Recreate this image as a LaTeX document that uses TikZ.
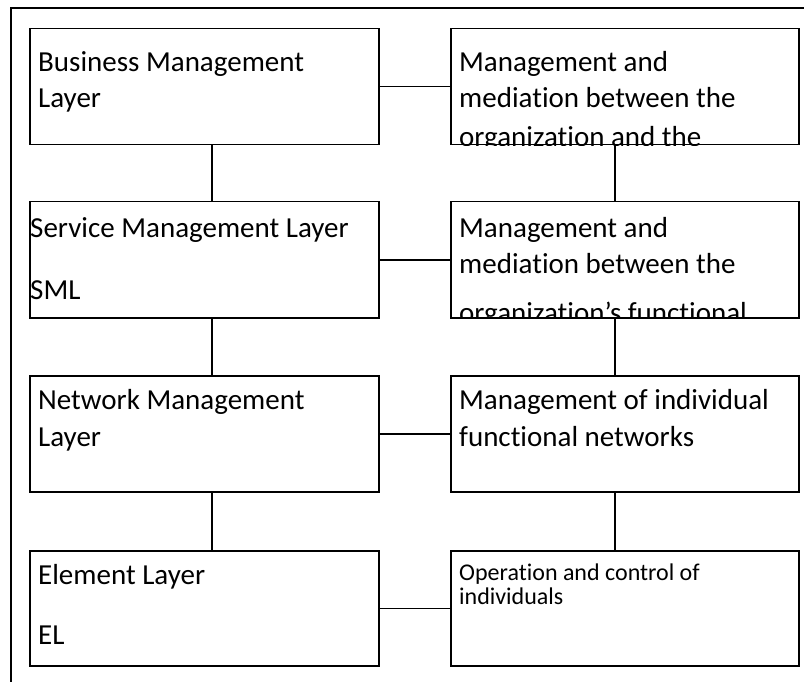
\documentclass[tikz,border=0pt]{standalone}
\usepackage{fontspec}
\setmainfont{Carlito}[Ligatures=NoCommon]
\begin{document}
\begin{tikzpicture}[x=1pt,y=-1pt,
  box/.style={draw, line width=1.5pt, minimum height=116pt, anchor=north west, inner sep=0pt},
  lbox/.style={box, minimum width=349pt},
  rbox/.style={box, minimum width=348pt},
  txt/.style={anchor=base west, inner sep=0pt, font=\fontsize{29}{36}\selectfont},
  smalltxt/.style={anchor=base west, inner sep=0pt, font=\fontsize{24}{29}\selectfont},
  link/.style={line width=1.5pt}]
\useasboundingbox (0,0) rectangle (804,682);
\clip (0,0) rectangle (804,682);
\fill[white] (0,0) rectangle (804,682);
% outer frame (partly outside the page)
\draw[line width=1.6pt] (11,700) -- (11,8) -- (830,8);
% boxes
\node[lbox] (L1) at (29,28) {};
\node[rbox] (R1) at (450,28) {};
\node[lbox] (L2) at (29,201) {};
\node[rbox] (R2) at (450,201) {};
\node[lbox] (L3) at (29,375) {};
\node[rbox] (R3) at (450,375) {};
\node[lbox, minimum height=115pt] (L4) at (29,550) {};
\node[rbox, minimum height=115pt] (R4) at (450,550) {};
\coordinate (cL) at (212,0);
\coordinate (cR) at (615,0);
% vertical connectors
\draw[link] (L1.south -| cL) -- (L2.north -| cL);
\draw[link] (L2.south -| cL) -- (L3.north -| cL);
\draw[link] (L3.south -| cL) -- (L4.north -| cL);
\draw[link] (R1.south -| cR) -- (R2.north -| cR);
\draw[link] (R2.south -| cR) -- (R3.north -| cR);
\draw[link] (R3.south -| cR) -- (R4.north -| cR);
% horizontal connectors
\draw[link] (L1.east) -- (R1.west);
\draw[link] (L2.east) -- (R2.west);
\draw[link] (L3.east) -- (R3.west);
\draw[link] (L4.east) -- (R4.west);
% texts
\node[txt] (t1a) at (38,72) {Business Management};
\node[txt] (t1b) at (38,108) {Layer};
\begin{scope}
\clip (R1.north west) rectangle (R1.south east);
\node[txt] (u1a) at (459,72) {Management and};
\node[txt] (u1b) at (459,108) {mediation between the};
\node[txt] (u1c) at (459,147) {organization and the};
\end{scope}
\node[txt] (t2a) at (30,237) {Service Management Layer};
\node[txt] (t2b) at (30,299) {SML};
\begin{scope}
\clip (R2.north west) rectangle (R2.south east);
\node[txt] (u2a) at (459,237) {Management and};
\node[txt] (u2b) at (459,273) {mediation between the};
\node[txt] (u2c) at (459,322) {organization’s functional};
\end{scope}
\node[txt] (t3a) at (38,409) {Network Management};
\node[txt] (t3b) at (38,446) {Layer};
\node[txt] (u3a) at (459,409) {Management of individual};
\node[txt] (u3b) at (459,446) {functional networks};
\node[txt] (t4a) at (38,584) {Element Layer};
\node[txt] (t4b) at (38,644) {EL};
\node[smalltxt] (u4a) at (459,580) {Operation and control of};
\node[smalltxt] (u4b) at (459,604) {individuals};
\end{tikzpicture}
\end{document}
